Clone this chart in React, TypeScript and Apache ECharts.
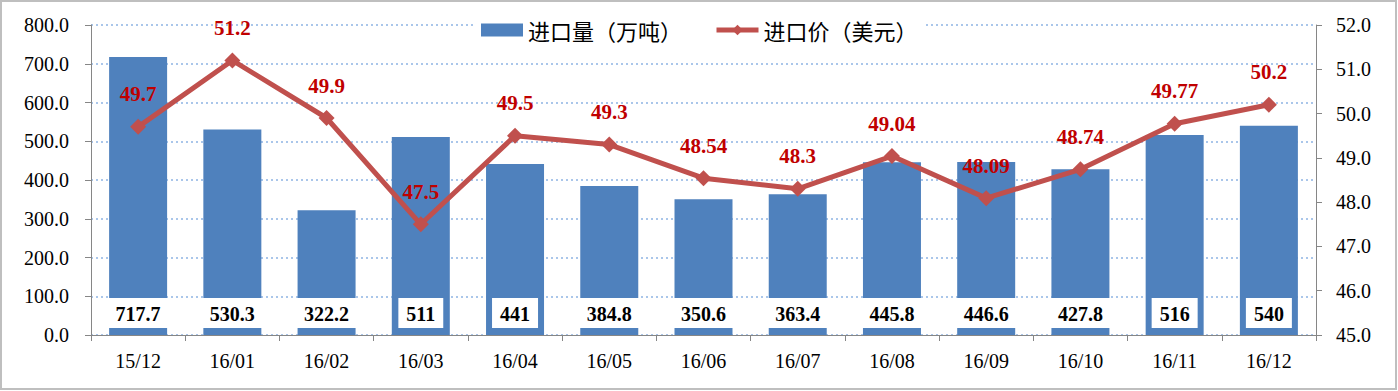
import React, { useEffect, useRef } from "react";
import * as echarts from "echarts";

const categories = ["15/12", "16/01", "16/02", "16/03", "16/04", "16/05", "16/06", "16/07", "16/08", "16/09", "16/10", "16/11", "16/12"];
const volumes = [717.7, 530.3, 322.2, 511, 441, 384.8, 350.6, 363.4, 445.8, 446.6, 427.8, 516, 540];
const prices = [49.7, 51.2, 49.9, 47.5, 49.5, 49.3, 48.54, 48.3, 49.04, 48.09, 48.74, 49.77, 50.2];
const seriesNames = ["进口量（万吨）", "进口价（美元）"];

const serif = "Liberation Serif";

export default function App() {
  const ref = useRef<HTMLDivElement>(null);
  useEffect(() => {
    document.body.style.margin = "0";
    const chart = echarts.init(ref.current!, null, { renderer: "svg" });
    chart.setOption({
      animation: false,
      backgroundColor: "#ffffff",
      graphic: [
        {
          type: "rect",
          shape: { x: 1, y: 1, width: 1395, height: 388 },
          style: { fill: "none", stroke: "#BFBFBF", lineWidth: 2 },
          z: 100,
        },
      ],
      legend: {
        top: 16,
        left: 475,
        itemGap: 32,
        itemWidth: 42,
        itemHeight: 13,
        backgroundColor: "#ffffff",
        padding: [3, 6],
        textStyle: { fontSize: 22, color: "#000", fontFamily: "Noto Sans CJK SC" },
        data: [
          { name: seriesNames[0], icon: "rect" },
          { name: seriesNames[1], lineStyle: { width: 5, color: "#C0504D" } },
        ],
      },
      grid: { left: 91, right: 82, top: 25, bottom: 56, containLabel: false },
      xAxis: {
        type: "category",
        data: categories,
        axisLine: { lineStyle: { color: "#868686", width: 1 } },
        axisTick: { show: true, inside: false, length: 6, alignWithLabel: false, lineStyle: { color: "#868686" } },
        axisLabel: { fontSize: 20, color: "#000", fontFamily: serif, margin: 16 },
        splitLine: { show: false },
      },
      yAxis: [
        {
          type: "value",
          min: 0,
          max: 800,
          interval: 100,
          axisLine: { show: true, lineStyle: { color: "#868686" } },
          axisTick: { show: true, length: 6, lineStyle: { color: "#868686" } },
          axisLabel: { fontSize: 20, color: "#000", fontFamily: serif, margin: 22, formatter: (v: number) => v.toFixed(1) },
          splitLine: { show: true, lineStyle: { color: "#8EB4E3", type: [2, 3], width: 1.5 } },
        },
        {
          type: "value",
          min: 45,
          max: 52,
          interval: 1,
          axisLine: { show: true, lineStyle: { color: "#868686" } },
          axisTick: { show: true, length: 6, lineStyle: { color: "#868686" } },
          axisLabel: { fontSize: 20, color: "#000", fontFamily: serif, margin: 20, formatter: (v: number) => v.toFixed(1) },
          splitLine: { show: false },
        },
      ],
      series: [
        {
          name: seriesNames[0],
          type: "bar",
          data: volumes,
          barWidth: 58,
          itemStyle: { color: "#4F81BD" },
          label: {
            show: true,
            position: "insideBottom",
            distance: 7,
            backgroundColor: "#ffffff",
            padding: [6, 8, 4, 8],
            color: "#000",
            fontWeight: "bold",
            fontSize: 20,
            fontFamily: serif,
          },
        },
        {
          name: seriesNames[1],
          type: "line",
          yAxisIndex: 1,
          data: prices,
          symbol: "diamond",
          symbolSize: 16,
          lineStyle: { color: "#C0504D", width: 5 },
          itemStyle: { color: "#C0504D" },
          label: {
            show: true,
            position: "top",
            distance: 14,
            color: "#C00000",
            fontWeight: "bold",
            fontSize: 21,
            fontFamily: serif,
          },
          z: 5,
        },
      ],
    });
    return () => chart.dispose();
  }, []);
  return <div ref={ref} style={{ width: 1398, height: 391 }} />;
}
